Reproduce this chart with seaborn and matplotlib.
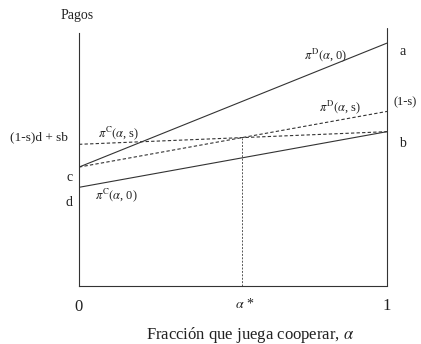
import numpy as np
import pandas as pd
import matplotlib
matplotlib.use("Agg")
import matplotlib.pyplot as plt
import seaborn as sns

sns.set_style("white")
plt.rcParams['font.family'] = ['Liberation Serif', 'DejaVu Serif']
plt.rcParams['mathtext.fontset'] = 'stix'

# end points of each payoff line (alpha = 0 and alpha = 1)
alpha = [0, 1]
pi_D0 = [47, 96]    # from c to a
pi_C0 = [39, 61]    # from d to b
pi_Ds = [47, 69]    # from c to (1-s)
pi_Cs = [56, 61]    # from (1-s)d + sb to b

ink = "#333333"
fig = plt.figure(figsize=(4.21, 3.44), dpi=100)
ax = fig.add_axes([0.1876, 0.1686, 0.7316, 0.7355])

sns.lineplot(x=alpha, y=pi_D0, color=ink, lw=0.8, ax=ax)
sns.lineplot(x=alpha, y=pi_C0, color=ink, lw=0.8, ax=ax)
sns.lineplot(x=alpha, y=pi_Ds, color=ink, lw=0.8, ls=(0, (3, 2)), ax=ax)
sns.lineplot(x=alpha, y=pi_Cs, color=ink, lw=0.8, ls=(0, (3, 2)), ax=ax)

# alpha* where the two dashed lines cross
sD = pi_Ds[1] - pi_Ds[0]
sC = pi_Cs[1] - pi_Cs[0]
a_star = (pi_Cs[0] - pi_Ds[0]) / (sD - sC)
y_star = pi_Ds[0] + sD * a_star
ax.plot([a_star, a_star], [0, y_star], color="#555555", lw=0.7, ls=(0, (2, 1.5)))

# right vertical line at alpha = 1
ax.plot([1, 1], [0, 102], color=ink, lw=0.8, clip_on=False)

ax.set_xlim(0, 1)
ax.set_ylim(0, 100)
for s in ["top", "right"]:
    ax.spines[s].set_visible(False)
for s in ["left", "bottom"]:
    ax.spines[s].set_color(ink)
    ax.spines[s].set_linewidth(0.8)
ax.set_yticks([])
ax.set_xticks([])

tc = "#222222"
fs = 9
ax.text(-0.006, 107, "Pagos", ha="center", va="center", fontsize=10, color=tc, clip_on=False)
ax.text(0.80, 91.3, r"$\pi^{\mathrm{D}}(\alpha$, 0)", ha="center", va="center", fontsize=fs, color=tc)
ax.text(1.05, 92.5, "a", ha="center", va="center", fontsize=fs + 1, color=tc, clip_on=False)
ax.text(0.847, 70.8, r"$\pi^{\mathrm{D}}(\alpha$, s)", ha="center", va="center", fontsize=fs, color=tc)
ax.text(1.02, 72.7, "(1-s)", ha="left", va="center", fontsize=fs, color=tc, clip_on=False)
ax.text(1.05, 56.5, "b", ha="center", va="center", fontsize=fs + 1, color=tc, clip_on=False)
ax.text(-0.035, 58.7, "(1-s)d + sb", ha="right", va="center", fontsize=9.6, color=tc, clip_on=False)
ax.text(0.13, 60.5, r"$\pi^{\mathrm{C}}(\alpha$, s)", ha="center", va="center", fontsize=fs, color=tc)
ax.text(-0.032, 43, "c", ha="center", va="center", fontsize=fs + 1, color=tc, clip_on=False)
ax.text(-0.032, 33.2, "d", ha="center", va="center", fontsize=fs + 1, color=tc, clip_on=False)
ax.text(0.12, 36, r"$\pi^{\mathrm{C}}(\alpha$, 0)", ha="center", va="center", fontsize=fs, color=tc)

ax.text(0.0, -8.3, "0", ha="center", va="center", fontsize=12, color=tc, clip_on=False)
ax.text(1.0, -8.0, "1", ha="center", va="center", fontsize=12, color=tc, clip_on=False)
ax.text(a_star + 0.01, -7.3, r"$\alpha$ *", ha="center", va="center", fontsize=fs + 1, color=tc, clip_on=False)
ax.text(0.555, -19.4, r"Fracción que juega cooperar, $\alpha$", ha="center", va="center",
        fontsize=12, color=tc, clip_on=False)

fig.savefig("out.png", dpi=100)
